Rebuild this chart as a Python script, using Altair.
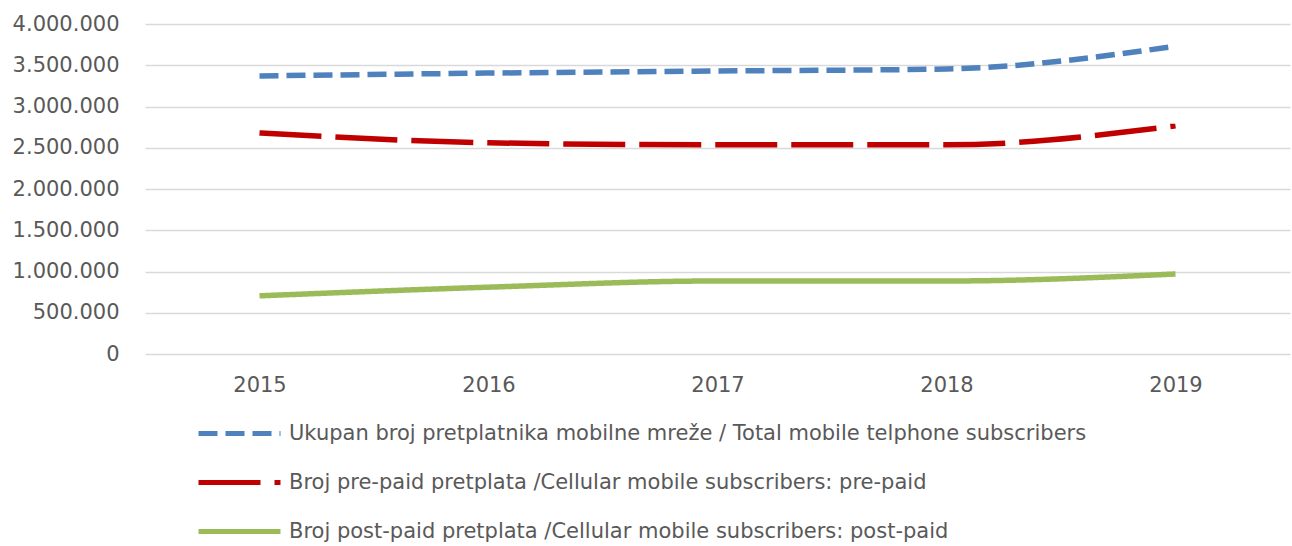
import altair as alt
import pandas as pd

years = ["2015", "2016", "2017", "2018", "2019"]
series_names = [
    "Ukupan broj pretplatnika mobilne mreže / Total mobile telphone subscribers",
    "Broj pre-paid pretplata /Cellular mobile subscribers: pre-paid",
    "Broj post-paid pretplata /Cellular mobile subscribers: post-paid",
]
total = [3370000, 3405000, 3430000, 3455000, 3730000]
prepaid = [2680000, 2560000, 2535000, 2535000, 2765000]
postpaid = [705000, 810000, 885000, 885000, 970000]

colors = ["#4F81BD", "#C00000", "#9BBB59"]
dashes = [[19, 8], [62, 14], [1, 0]]

rows = []
for name, vals in zip(series_names, [total, prepaid, postpaid]):
    for y, v in zip(years, vals):
        rows.append({"year": y, "value": v, "series": name})
df = pd.DataFrame(rows)

color_scale = alt.Scale(domain=series_names, range=colors)
dash_scale = alt.Scale(domain=series_names, range=dashes)

legend = alt.Legend(
    title=None,
    orient="none",
    legendX=78,
    legendY=393,
    direction="vertical",
    symbolType="M-3,0H3",
    symbolSize=747,
    symbolStrokeWidth=5,
    labelFontSize=21,
    labelFont="DejaVu Sans",
    labelColor="#595959",
    labelOffset=33,
    rowPadding=22,
    labelLimit=1200,
)

base = alt.Chart(df).encode(
    x=alt.X(
        "year:N",
        sort=years,
        scale=alt.Scale(paddingInner=0, paddingOuter=0),
        axis=alt.Axis(
            title=None, labelAngle=0, ticks=False, domain=False, grid=False,
            labelPadding=20, labelFontSize=21, labelColor="#595959",
            labelFont="DejaVu Sans",
        ),
    ),
    y=alt.Y(
        "value:Q",
        scale=alt.Scale(domain=[0, 4000000]),
        axis=alt.Axis(
            title=None, values=list(range(0, 4000001, 500000)), ticks=False,
            domain=False, gridColor="#D9D9D9", gridWidth=1.3,
            labelPadding=26, labelFontSize=21, labelColor="#595959",
            labelFont="DejaVu Sans",
            labelExpr="replace(format(datum.value, ','), regexp(',', 'g'), '.')",
        ),
    ),
    color=alt.Color("series:N", scale=color_scale, legend=legend, sort=series_names),
    strokeDash=alt.StrokeDash("series:N", scale=dash_scale, legend=legend, sort=series_names),
)

chart = (
    base.mark_line(interpolate="monotone", strokeWidth=5.5, strokeCap="butt")
    .properties(
        width=1145,
        height=330,
        autosize=alt.AutoSizeParams(type="none"),
        padding={"left": 145, "top": 24, "right": 2, "bottom": 192},
        background="white",
    )
    .configure_view(stroke=None, strokeWidth=0)
)

chart.save("out.html", embed_options={"renderer": "svg", "actions": False})
